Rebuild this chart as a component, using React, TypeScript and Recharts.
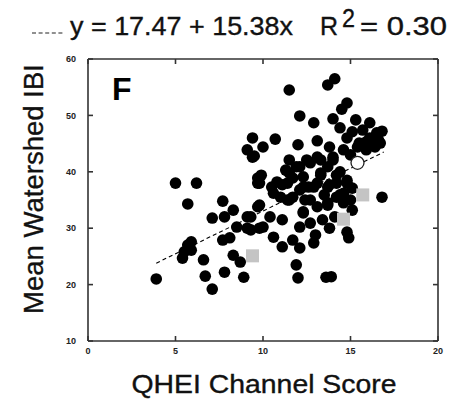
import React from "react";
import { ScatterChart, Scatter, XAxis, YAxis, Label } from "recharts";

// axis ticks
const xTicks = [0, 5, 10, 15, 20];
const yTicks = [10, 20, 30, 40, 50, 60];

// watershed sites: [QHEI channel score, mean IBI]
const lowSites: [number, number][] = [
  [3.9, 21.0], [5.0, 38.0], [6.2, 38.0], [5.7, 34.3], [7.7, 34.8], [8.3, 33.2],
  [7.8, 32.0], [7.1, 31.8], [9.1, 32.0], [9.7, 33.8], [8.5, 30.2], [9.1, 30.0],
  [9.8, 30.0], [7.7, 27.9], [8.1, 28.3], [5.9, 27.6], [5.7, 27.0], [5.5, 25.8],
  [5.9, 26.1], [5.4, 24.7], [6.6, 24.4], [8.3, 25.2], [8.7, 24.0], [7.8, 22.2],
  [6.7, 21.5], [8.9, 21.3], [7.1, 19.2],
];

const highSites: [number, number][] = [
  [9.4, 46.0], [9.1, 43.9], [9.4, 42.6], [9.7, 38.9], [9.7, 38.0], [11.5, 54.5],
  [13.7, 55.4], [14.1, 56.5], [14.8, 52.2], [14.5, 51.1], [12.1, 49.9], [12.9, 48.7],
  [14.0, 49.4], [14.4, 47.8], [15.3, 49.2], [16.1, 48.7], [16.8, 47.2], [10.7, 45.8],
  [10.0, 44.4], [9.5, 42.8], [12.0, 44.8], [13.1, 45.5], [13.8, 44.4], [14.8, 46.0],
  [15.5, 45.1], [16.1, 46.0], [16.4, 44.4], [15.9, 43.9], [13.1, 42.6], [14.0, 42.6],
  [16.8, 35.5], [9.9, 39.4], [9.8, 38.0], [10.5, 37.3], [11.7, 38.9], [12.1, 40.9],
  [12.7, 41.6], [13.7, 40.9], [14.4, 40.0], [14.2, 38.0], [14.8, 38.0], [13.1, 38.0],
  [12.3, 37.3], [11.0, 35.5], [11.7, 35.5], [15.7, 47.4], [15.0, 43.0], [16.6, 45.6],
  [11.5, 42.1], [11.3, 40.3], [13.3, 39.4],
];

const midSites: [number, number][] = [
  [11.1, 37.7], [12.6, 37.3], [13.8, 37.7], [14.2, 35.5], [15.0, 35.0], [13.7, 34.1],
  [13.1, 33.8], [12.3, 32.9], [11.4, 35.0], [10.6, 36.2], [9.8, 34.1], [9.3, 32.0],
  [10.0, 30.2], [10.6, 28.4], [11.1, 26.7], [11.7, 27.9], [12.1, 30.2], [13.0, 28.8],
  [12.9, 27.4], [12.1, 26.5], [11.9, 23.5], [12.0, 21.2], [13.6, 21.3], [13.9, 21.4],
  [13.8, 30.0], [14.8, 29.3], [14.9, 28.3], [14.1, 32.0], [13.4, 31.5], [12.7, 30.9],
  [11.1, 31.5], [10.4, 32.0], [9.3, 29.7], [12.4, 35.0], [13.5, 35.9], [14.4, 35.9],
];

const denseSites: [number, number][] = [
  [15.1, 47.1], [16.5, 46.9], [15.9, 45.3], [15.4, 44.4], [16.7, 45.1], [14.6, 43.9],
  [14.0, 42.1], [13.3, 42.1], [12.5, 42.1], [11.9, 40.9], [11.5, 39.8], [12.3, 39.1],
  [13.3, 39.8], [14.2, 39.4], [14.8, 38.5], [15.1, 37.1], [14.6, 36.2], [13.7, 37.3],
  [12.9, 37.3], [12.1, 36.8], [11.4, 38.0], [10.8, 38.2], [11.5, 35.0], [12.7, 35.0],
  [13.7, 34.5], [14.6, 34.5], [15.1, 33.2], [12.3, 32.7],
];

const graySites: [number, number][] = [[15.7, 35.9], [14.6, 31.6], [9.4, 25.1]];
const openSite: [number, number][] = [[15.4, 41.6]];
const fitLine: [number, number][] = [[3.9, 23.8], [16.9, 43.5]];

const toPts = (arr: [number, number][]) => arr.map(([x, y]) => ({ x, y }));
const blackPts = toPts([...lowSites, ...highSites, ...midSites, ...denseSites]);

// plot box (from chart margins + axis sizes)
const M = { top: 59, right: 12, bottom: 29, left: 58 };
const PLOT_TOP = M.top;
const PLOT_BOTTOM = 400 - M.bottom - 30;
const PLOT_LEFT = M.left + 30;
const PLOT_RIGHT = 450 - M.right;
const TICK = 5;

const BlackDot = (p: any) => <circle cx={p.cx} cy={p.cy} r={5.8} fill="#000" />;
const GraySquare = (p: any) => (
  <rect x={p.cx - 6.5} y={p.cy - 6.5} width={13} height={13} fill="#c4c4c4" />
);
const OpenDot = (p: any) => (
  <circle cx={p.cx} cy={p.cy} r={6.5} fill="#fff" stroke="#222" strokeWidth={1.3} />
);
const NoDot = () => null;

const frame = { stroke: "#333", strokeWidth: 1.6 };
const tickFont = { fontSize: 9, fontWeight: 700, fill: "#222" };
const heavy = { fill: "#111", stroke: "#111", strokeWidth: 0.35 };

// tick label plus inward tick marks on bottom and top edges
const XTick = (p: any) => (
  <g>
    <line x1={p.x} x2={p.x} y1={PLOT_BOTTOM} y2={PLOT_BOTTOM - TICK} {...frame} />
    <line x1={p.x} x2={p.x} y1={PLOT_TOP} y2={PLOT_TOP + TICK} {...frame} />
    <text x={p.x} y={p.y} dy="0.71em" textAnchor="middle" {...tickFont}>{p.payload.value}</text>
  </g>
);

// tick label plus inward tick marks on left and right edges
const YTick = (p: any) => (
  <g>
    <line x1={PLOT_LEFT} x2={PLOT_LEFT + TICK} y1={p.y} y2={p.y} {...frame} />
    <line x1={PLOT_RIGHT} x2={PLOT_RIGHT - TICK} y1={p.y} y2={p.y} {...frame} />
    <text x={p.x} y={p.y} dy="0.355em" textAnchor="end" {...tickFont}>{p.payload.value}</text>
  </g>
);

export default function App() {
  return (
    <div style={{ position: "absolute", left: 0, top: 0, width: 450, height: 400, background: "#fff", fontFamily: "'Liberation Sans', Arial, sans-serif" }}>
      <svg width={450} height={60} style={{ position: "absolute", left: 0, top: 0 }}>
        <line x1={32} x2={65} y1={33} y2={33} stroke="#222" strokeWidth={1.2} strokeDasharray="4 2.6" />
        <text x={70} y={35} fontSize={25} {...heavy} textLength={223} lengthAdjust="spacingAndGlyphs">
          y = 17.47 + 15.38x
        </text>
        <text x={320} y={35} fontSize={25} {...heavy}>R</text>
        <text x={342} y={27} fontSize={25} {...heavy} textLength={13} lengthAdjust="spacingAndGlyphs">2</text>
        <text x={360} y={35} fontSize={25} {...heavy} textLength={87} lengthAdjust="spacingAndGlyphs">
          = 0.30
        </text>
      </svg>
      <ScatterChart width={450} height={400} margin={M}>
        <XAxis
          xAxisId="b" type="number" dataKey="x" domain={[0, 20]} ticks={xTicks}
          height={30} tickLine={false} tickSize={0} tickMargin={7}
          axisLine={frame} tick={XTick}
        >
          <Label
            content={() => (
              <text x={264} y={393} textAnchor="middle" fontSize={25} {...heavy}
                textLength={265} lengthAdjust="spacingAndGlyphs">
                QHEI Channel Score
              </text>
            )}
          />
        </XAxis>
        <XAxis xAxisId="t" orientation="top" type="number" dataKey="x" domain={[0, 20]} ticks={xTicks} mirror
          axisLine={frame} tickLine={false} tick={false} />
        <YAxis
          yAxisId="l" type="number" dataKey="y" domain={[10, 60]} ticks={yTicks}
          width={30} tickLine={false} tickSize={0} tickMargin={12}
          axisLine={frame} tick={YTick}
        >
          <Label
            content={() => (
              <text x={43} y={189} textAnchor="middle" fontSize={28} {...heavy}
                transform="rotate(-90, 43, 189)" textLength={250} lengthAdjust="spacingAndGlyphs">
                Mean Watershed IBI
              </text>
            )}
          />
        </YAxis>
        <YAxis yAxisId="r" orientation="right" type="number" dataKey="y" domain={[10, 60]} ticks={yTicks} mirror
          axisLine={frame} tickLine={false} tick={false} />
        <Scatter xAxisId="b" yAxisId="l" data={toPts(fitLine)} shape={NoDot}
          line={{ stroke: "#000", strokeWidth: 1.1, strokeDasharray: "4 3" }} isAnimationActive={false} />
        <Scatter xAxisId="b" yAxisId="l" data={blackPts} shape={BlackDot} isAnimationActive={false} />
        <Scatter xAxisId="b" yAxisId="l" data={toPts(graySites)} shape={GraySquare} isAnimationActive={false} />
        <Scatter xAxisId="b" yAxisId="l" data={toPts(openSite)} shape={OpenDot} isAnimationActive={false} />
      </ScatterChart>
      <svg width={450} height={400} style={{ position: "absolute", left: 0, top: 0, pointerEvents: "none" }}>
        <text x={112} y={100} fontSize={32} fontWeight={700} fill="#000">F</text>
      </svg>
    </div>
  );
}
